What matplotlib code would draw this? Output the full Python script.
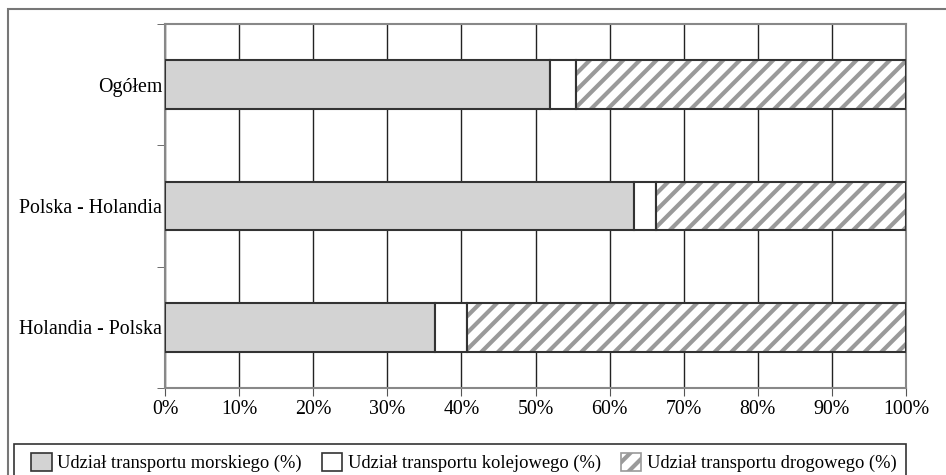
import matplotlib
matplotlib.use("Agg")
from matplotlib import pyplot as plt
from matplotlib.patches import Rectangle
import numpy as np

plt.rcParams['font.family'] = ['Liberation Serif', 'DejaVu Serif']
plt.rcParams['hatch.linewidth'] = 3.0

# kierunki przewozów (od dołu)
kierunki = ["Holandia - Polska", "Polska - Holandia", "Ogółem"]
morski = [36.5, 63.3, 51.9]
kolejowy = [4.3, 3.0, 3.5]
drogowy = [59.2, 33.7, 44.6]
nazwy = ["Udział transportu morskiego (%)",
         "Udział transportu kolejowego (%)",
         "Udział transportu drogowego (%)"]

W, H = 946, 475
fig = plt.figure(figsize=(W / 100, H / 100), dpi=100)
ax = fig.add_axes([165 / W, 1 - 388 / H, (906 - 165) / W, (388 - 24) / H])

y = np.arange(len(kierunki))
m = np.array(morski)
k = np.array(kolejowy)
d = np.array(drogowy)
ax.barh(y, m, height=0.4, color='#d3d3d3', edgecolor='#333333', linewidth=1.5, zorder=3)
ax.barh(y, k, left=m, height=0.4, color='white', edgecolor='#333333', linewidth=1.5, zorder=3)
# kreskowanie w szarym kolorze, obrys osobno
ax.barh(y, d, left=m + k, height=0.4, color='white', edgecolor='#9a9a9a', hatch='//',
        linewidth=0, zorder=3)
ax.barh(y, d, left=m + k, height=0.4, fill=False, edgecolor='#333333', linewidth=1.5, zorder=4)

ax.set_xlim(0, 100)
ax.set_ylim(-0.5, 2.5)
ax.set_xticks(np.arange(0, 101, 10))
ax.set_xticklabels([f"{v}%" for v in range(0, 101, 10)], fontsize=14.3)
ax.set_yticks(y)
ax.set_yticklabels(kierunki, fontsize=14.3)
ax.tick_params(axis='y', length=0, pad=2)
ax.set_yticks(np.arange(-0.5, 2.6, 1), minor=True)
ax.tick_params(axis='y', which='minor', length=6, color='#555555')
ax.tick_params(axis='x', length=6, color='#555555', pad=3)
ax.grid(axis='x', color='#222222', linewidth=1, zorder=0)
for s in ax.spines.values():
    s.set_color('#888888')
    s.set_linewidth(1.5)

uchwyty = [
    Rectangle((0, 0), 1, 1, facecolor='#d3d3d3', edgecolor='#333333', linewidth=1.2),
    Rectangle((0, 0), 1, 1, facecolor='white', edgecolor='#333333', linewidth=1.2),
    Rectangle((0, 0), 1, 1, facecolor='white', edgecolor='#9a9a9a', hatch='//', linewidth=1.2),
]
fig.legend(uchwyty, nazwy, loc='upper left',
           bbox_to_anchor=(22 / W, 1 - 444 / H, (906 - 22) / W, 0.0),
           mode='expand', ncol=3, fontsize=13.3, frameon=False,
           handlelength=1.1, handleheight=1.1,
           handletextpad=0.3, borderaxespad=0, borderpad=0.5)

# ramka legendy i ramka całego rysunku
fig.patches.append(Rectangle((14 / W, -0.1), (906 - 14) / W, 0.1 + 1 - 444 / H,
                             transform=fig.transFigure, fill=False,
                             edgecolor='#333333', linewidth=1.2))
fig.patches.append(Rectangle((8 / W, -0.1), 1.1, 1 - 9 / H + 0.1, transform=fig.transFigure,
                             fill=False, edgecolor='#777777', linewidth=1.5))

fig.savefig("out.png", dpi=100)
